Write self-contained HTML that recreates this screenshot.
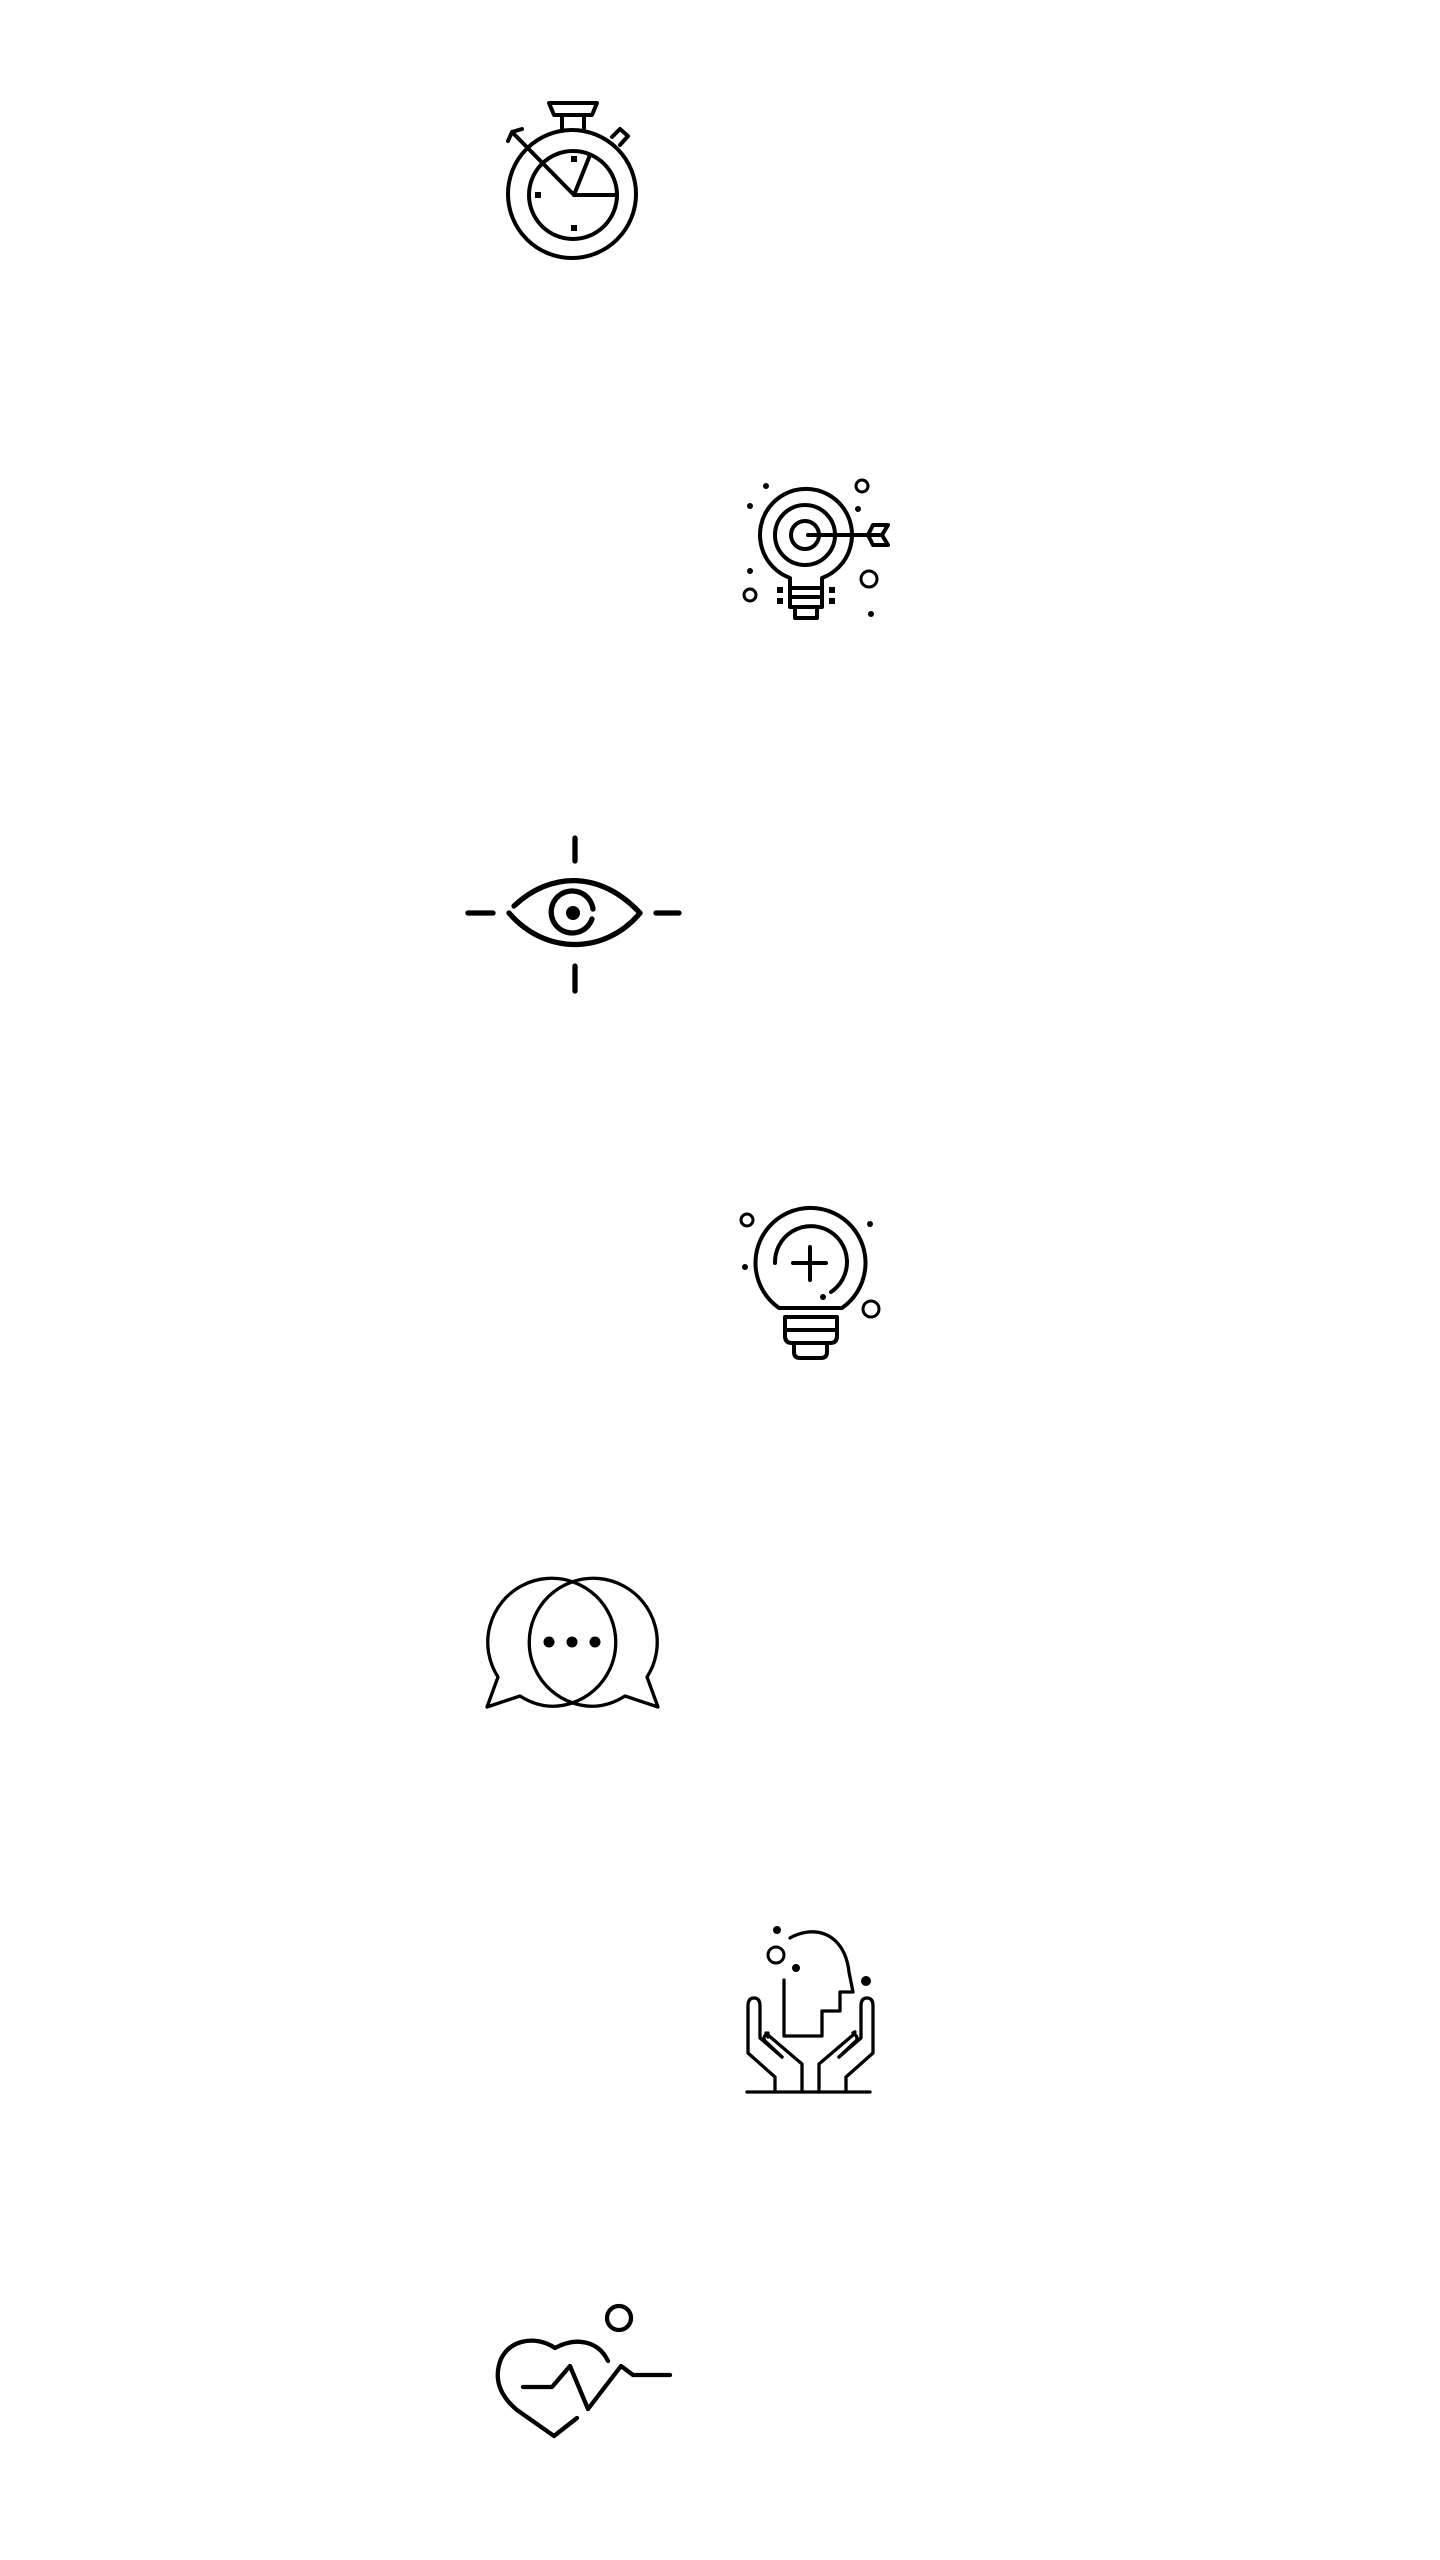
<!DOCTYPE html>
<html><head><meta charset="utf-8"><style>html,body{margin:0;padding:0;background:#fff}svg{display:block}</style></head>
<body>
<svg width="1440" height="2560" viewBox="0 0 1440 2560" xmlns="http://www.w3.org/2000/svg" fill="none" stroke="#000" stroke-width="4" stroke-linecap="round" stroke-linejoin="round">
<!-- stopwatch -->
<circle cx="572" cy="194" r="64"/>
<circle cx="573" cy="195" r="44"/>
<path d="M549 103 H597 L592 115 H554 Z"/>
<path d="M562 115 V128 M584 115 V128"/>
<path d="M612 137 L620 129 L628 136 L620 145" />
<path d="M574 195 L512 132"/>
<path d="M508 141 L512 132 L522 129"/>
<path d="M574 195 L590 155 M574 195 H617"/>
<g fill="#000" stroke="none"><rect x="571" y="156" width="6" height="6"/><rect x="535" y="192" width="6" height="6"/><rect x="571" y="225" width="6" height="6"/></g>
<!-- target bulb -->
<path d="M790 578 A46 46 0 1 1 822 578 V607 H790 Z"/>
<circle cx="805" cy="535" r="30"/>
<circle cx="805" cy="535" r="14"/>
<path d="M790 588 H822 M790 597 H822"/>
<rect x="795" y="607" width="22" height="11"/>
<path d="M808 535 H880 M873 525 H888 L882 535 L888 545 H873 L868 535 Z"/>
<circle cx="862" cy="486" r="6" stroke-width="3"/>
<circle cx="869" cy="579" r="8" stroke-width="3"/>
<circle cx="750" cy="595" r="6" stroke-width="3"/>
<g fill="#000" stroke="none"><circle cx="766" cy="486" r="3"/><circle cx="750" cy="506" r="3"/><circle cx="858" cy="509" r="3"/><circle cx="750" cy="571" r="3"/><circle cx="871" cy="614" r="3"/><rect x="777" y="587" width="6" height="6"/><rect x="777" y="598" width="6" height="6"/><rect x="829" y="587" width="6" height="6"/><rect x="829" y="598" width="6" height="6"/></g>
<!-- eye -->
<g stroke-width="5.3">
<path d="M575 838 V861 M575 966 V991 M468 913 H493 M656 913 H679"/>
<path d="M514 906 C550 872 600 870 640 913 C605 955 545 955 509 913"/>
<path d="M592 919 A21 21 0 1 1 593 909"/>
</g>
<circle cx="573" cy="913" r="7" fill="#000" stroke="none"/>
<!-- plus bulb -->
<path d="M779 1308 A55 55 0 1 1 842 1308 Z"/>
<path d="M775 1263 A36 36 0 1 1 831 1292"/>
<path d="M810 1247 V1280 M793 1263 H826"/>
<path d="M785 1317 H837 V1336 Q837 1343 830 1343 H792 Q785 1343 785 1336 Z M785 1330 H837"/>
<path d="M794 1343 V1352 Q794 1358 800 1358 H821 Q827 1358 827 1352 V1343"/>
<circle cx="747" cy="1220" r="6" stroke-width="3"/>
<circle cx="871" cy="1309" r="8" stroke-width="3"/>
<g fill="#000" stroke="none"><circle cx="870" cy="1224" r="3"/><circle cx="745" cy="1267" r="3"/><circle cx="823" cy="1297" r="3"/></g>
<!-- chat -->
<g stroke-width="3.3">
<path d="M498 1677 A64 64 0 1 1 572 1703 Q545 1712 520 1696 L487 1707 Z"/>
<path d="M647 1677 A64 64 0 1 0 573 1703 Q600 1712 625 1696 L658 1707 Z"/>
</g>
<g fill="#000" stroke="none"><circle cx="549" cy="1642" r="5.5"/><circle cx="572" cy="1642" r="5.5"/><circle cx="595" cy="1642" r="5.5"/></g>
<!-- hands head -->
<g stroke-width="3.3">
<path d="M747 2092 H870"/>
<path d="M784 1980 V2036 H822 V2011 H840 V1992 H853 L849 1972 C846 1945 830 1930 808 1932 C800 1933 795 1935 790 1938"/>
<path d="M775 2092 V2077 L748 2053 V2006 Q748 1998 754 1998 Q760 1998 760 2006 V2038 L782 2057"/>
<path d="M802 2092 V2064 L768 2035 Q764 2030 768 2037 L768 2033 Q762 2037 765 2041 L782 2057"/>
<path d="M846 2092 V2077 L873 2053 V2006 Q873 1998 867 1998 Q861 1998 861 2006 V2038 L839 2057"/>
<path d="M819 2092 V2064 L853 2035 Q857 2030 853 2033 Q859 2037 856 2041 L839 2057"/>
<circle cx="776" cy="1955" r="8" stroke-width="3"/>
</g>
<g fill="#000" stroke="none"><circle cx="777" cy="1930" r="4"/><circle cx="796" cy="1968" r="4"/><circle cx="866" cy="1981" r="5"/></g>
<!-- heart -->
<g stroke-width="4.3">
<path d="M608 2361 C598 2340 575 2337 555 2348 C535 2334 505 2340 499 2365 C494 2385 505 2400 517 2410 L554 2436 L577 2418"/>
<path d="M523 2387 H552 L570 2366 L588 2409 L621 2366 L633 2375 H670"/>
<circle cx="619" cy="2318" r="12"/>
</g>
</svg>
</body></html>
